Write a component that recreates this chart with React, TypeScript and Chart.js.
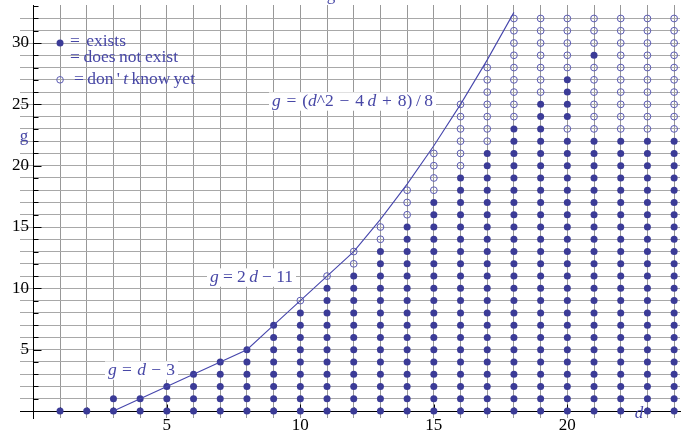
import React, { useEffect, useRef } from "react";
import { Chart, registerables } from "chart.js";

Chart.register(...registerables);

// genus g vs degree d
const dValues = [1, 2, 3, 4, 5, 6, 7, 8, 9, 10, 11, 12, 13, 14, 15, 16, 17, 18, 19, 20, 21, 22, 23, 24];
// filled points: g = 0 .. existsUpTo[i] exist
const existsUpTo = [0, 0, 1, 1, 2, 3, 4, 5, 7, 8, 10, 11, 13, 15, 17, 19, 21, 23, 25, 22, 22, 22, 22, 22];
// open points: existsUpTo[i]+1 .. shownUpTo[i] are unknown
const shownUpTo = [0, 0, 1, 1, 2, 3, 4, 5, 7, 9, 11, 13, 15, 18, 21, 25, 28, 32, 32, 32, 32, 32, 32, 32];
// isolated filled points inside the unknown region
const extraExistsD = [20, 20, 20, 20, 21];
const extraExistsG = [24, 25, 26, 27, 29];

// boundary curve g = d-3, g = 2d-11, g = (d^2-4d+8)/8
const curveD = [3, 4, 5, 6, 7, 8, 9, 10, 11, 12, 13, 14, 15, 16, 17, 18];
const curveG = [0, 1, 2, 3, 4, 5, 7, 9, 11, 13, 15.625, 18.5, 21.625, 25, 28.625, 32.5];

const xMin = -0.5, xMax = 24.22;
const yMin = -0.57, yMax = 33.1;

const BLUE_TEXT = "#4747a6";
const DOT = "#3b3b97";
const OPEN = "#5c5cb4";
const LINE = "#4646ac";
const SERIF = '"Liberation Serif", "Times New Roman", serif';

type Seg = { t: string; i?: boolean };

function drawRich(ctx: CanvasRenderingContext2D, segs: Seg[], x: number, base: number, target: number, size: number, bg: boolean) {
  const fN = `${size}px ${SERIF}`;
  const fI = `italic ${size}px ${SERIF}`;
  let natural = 0;
  let spaces = 0;
  for (const s of segs) {
    ctx.font = s.i ? fI : fN;
    natural += ctx.measureText(s.t).width;
    spaces += (s.t.match(/ /g) || []).length;
  }
  const extra = spaces ? (target - natural) / spaces : 0;
  if (bg) {
    ctx.fillStyle = "#ffffff";
    ctx.fillRect(x - 3, base - size * 0.78, target + 6, size * 1.05);
  }
  ctx.fillStyle = BLUE_TEXT;
  ctx.textAlign = "left";
  ctx.textBaseline = "alphabetic";
  let cx = x;
  for (const s of segs) {
    ctx.font = s.i ? fI : fN;
    const sp = ctx.measureText(" ").width;
    const parts = s.t.split(" ");
    parts.forEach((w, k) => {
      if (w.length) {
        ctx.fillText(w, cx, base);
        cx += ctx.measureText(w).width;
      }
      if (k < parts.length - 1) cx += sp + extra;
    });
  }
}

const decorPlugin = {
  id: "decor",
  beforeDatasetsDraw(chart: any) {
    const ctx: CanvasRenderingContext2D = chart.ctx;
    const xs = chart.scales.x;
    const ys = chart.scales.y;
    const x0 = xs.getPixelForValue(0);
    const y0 = ys.getPixelForValue(0);
    ctx.save();
    ctx.strokeStyle = "#000";
    ctx.lineWidth = 1;
    ctx.beginPath();
    xs.ticks.forEach((t: any) => {
      if (t.value <= 0) return;
      const px = Math.round(xs.getPixelForValue(t.value)) + 0.5;
      const len = t.value % 5 === 0 ? 7 : 4;
      ctx.moveTo(px, Math.round(y0) + 0.5);
      ctx.lineTo(px, Math.round(y0) + 0.5 - len);
    });
    ys.ticks.forEach((t: any) => {
      if (t.value <= 0) return;
      const py = Math.round(ys.getPixelForValue(t.value)) + 0.5;
      const len = t.value % 5 === 0 ? 8 : 5;
      ctx.moveTo(Math.round(x0) + 0.5, py);
      ctx.lineTo(Math.round(x0) + 0.5 + len, py);
    });
    ctx.stroke();
    ctx.restore();
  },
  afterDatasetsDraw(chart: any) {
    const ctx: CanvasRenderingContext2D = chart.ctx;
    const xs = chart.scales.x;
    const ys = chart.scales.y;
    ctx.save();
    // legend markers
    const lx = xs.getPixelForValue(1);
    ctx.fillStyle = DOT;
    ctx.beginPath();
    ctx.arc(lx, ys.getPixelForValue(30), 3.5, 0, Math.PI * 2);
    ctx.fill();
    ctx.strokeStyle = OPEN;
    ctx.lineWidth = 1;
    ctx.beginPath();
    ctx.arc(lx, ys.getPixelForValue(27), 3.3, 0, Math.PI * 2);
    ctx.stroke();

    drawRich(ctx, [{ t: "= exists" }], 70, 46, 56, 17.5, false);
    drawRich(ctx, [{ t: "= does not exist" }], 70, 62, 108, 17.5, false);
    drawRich(ctx, [{ t: "= don ' " }, { t: "t", i: true }, { t: " know yet" }], 74, 84, 121, 17.5, false);

    drawRich(
      ctx,
      [
        { t: "g", i: true },
        { t: " = (" },
        { t: "d", i: true },
        { t: "^2 − 4\u2009" },
        { t: "d", i: true },
        { t: " + 8)\u2009/\u20098" },
      ],
      272, 106, 161, 17.5, true
    );
    drawRich(ctx, [{ t: "g", i: true }, { t: " = 2\u2009" }, { t: "d", i: true }, { t: " − 11" }], 210, 282, 83, 17.5, true);
    drawRich(ctx, [{ t: "g", i: true }, { t: " = " }, { t: "d", i: true }, { t: " − 3" }], 108, 375, 67, 17.5, true);

    // axis labels
    ctx.fillStyle = BLUE_TEXT;
    ctx.font = `17px ${SERIF}`;
    ctx.textAlign = "center";
    ctx.textBaseline = "alphabetic";
    ctx.fillText("g", 24, 141);
    ctx.fillText("g", 331, -0.5);
    ctx.font = `italic 17px ${SERIF}`;
    ctx.fillText("d", 639, 418);
    ctx.restore();
  },
};

export default function App() {
  const ref = useRef<HTMLCanvasElement | null>(null);

  useEffect(() => {
    document.body.style.margin = "0";
    const canvas = ref.current;
    if (!canvas) return;

    const existsPts: { x: number; y: number }[] = [];
    const unknownPts: { x: number; y: number }[] = [];
    dValues.forEach((d, i) => {
      for (let g = 0; g <= existsUpTo[i]; g++) existsPts.push({ x: d, y: g });
      for (let g = existsUpTo[i] + 1; g <= shownUpTo[i]; g++) {
        const k = extraExistsD.findIndex((dd, j) => dd === d && extraExistsG[j] === g);
        if (k >= 0) existsPts.push({ x: d, y: g });
        else unknownPts.push({ x: d, y: g });
      }
    });
    const curvePts = curveD.map((d, i) => ({ x: d, y: curveG[i] }));

    const tickFont = { family: SERIF, size: 17 };

    const chart = new Chart(canvas, {
      type: "scatter",
      data: {
        datasets: [
          {
            type: "line",
            data: curvePts,
            borderColor: LINE,
            borderWidth: 1.1,
            pointRadius: 0,
            fill: false,
            tension: 0,
          } as any,
          {
            data: existsPts,
            pointRadius: 3.5,
            pointBackgroundColor: DOT,
            pointBorderWidth: 0,
            pointBorderColor: DOT,
          },
          {
            data: unknownPts,
            pointRadius: 3.4,
            pointBackgroundColor: "rgba(0,0,0,0)",
            pointBorderColor: OPEN,
            pointBorderWidth: 1,
          },
        ],
      },
      options: {
        animation: false,
        responsive: false,
        layout: { padding: { left: 20, top: 5, right: 0, bottom: 15 } },
        plugins: { legend: { display: false }, tooltip: { enabled: false } },
        scales: {
          x: {
            type: "linear",
            min: xMin,
            max: xMax,
            position: { y: 0 } as any,
            border: { color: "#000", width: 1 },
            grid: {
              color: "#989898",
              lineWidth: 1,
              drawTicks: false,
            },
            ticks: {
              stepSize: 1,
              includeBounds: false,
              autoSkip: false,
              maxRotation: 0,
              padding: 4,
              color: "#000",
              font: tickFont,
              callback: (v: any) => (v > 0 && v % 5 === 0 ? String(v) : []),
            },
          },
          y: {
            type: "linear",
            min: yMin,
            max: yMax,
            position: { x: 0 } as any,
            border: { color: "#000", width: 1 },
            grid: {
              color: (c: any) => (c.tick && c.tick.value > 32 ? "rgba(0,0,0,0)" : "#a8a8a8"),
              lineWidth: 1,
              drawTicks: false,
            },
            ticks: {
              stepSize: 1,
              includeBounds: false,
              autoSkip: false,
              padding: 5,
              color: "#000",
              font: tickFont,
              callback: (v: any) => (v > 0 && v % 5 === 0 ? String(v) + " " : []),
            },
          },
        },
      },
      plugins: [decorPlugin],
    });

    return () => chart.destroy();
  }, []);

  return (
    <div style={{ width: 685, height: 433 }}>
      <canvas ref={ref} width={685} height={433} style={{ display: "block", width: 685, height: 433 }} />
    </div>
  );
}
